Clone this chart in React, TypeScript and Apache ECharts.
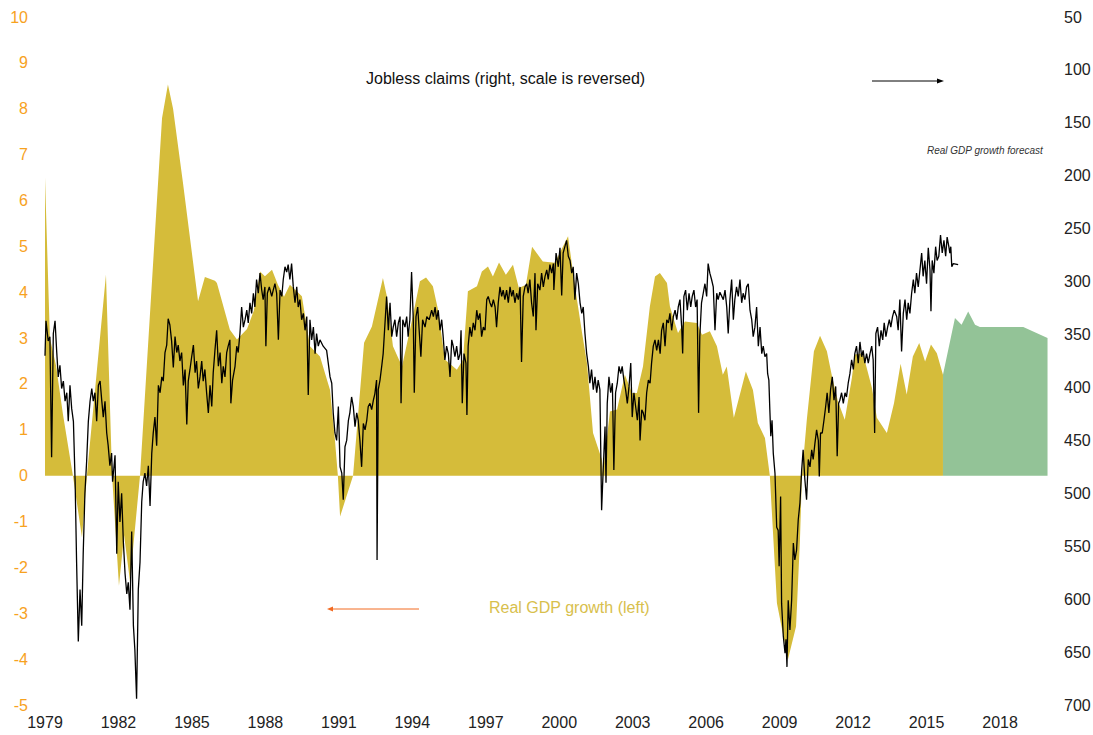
import React, { useEffect, useRef } from "react";
import * as echarts from "echarts";

const FONT = "'Liberation Sans', Arial, sans-serif";

// Real GDP growth (left axis, %), dates in decimal years
const gdpDates = [1979.00, 1979.20, 1979.45, 1979.73, 1980.14, 1980.51, 1980.71, 1981.49, 1981.74, 1982.02, 1982.23, 1982.47, 1982.88, 1983.78, 1984.02, 1984.23, 1984.63, 1985.25, 1985.53, 1985.94, 1986.02, 1986.55, 1986.84, 1987.25, 1987.53, 1987.78, 1987.98, 1988.27, 1988.51, 1988.76, 1989.00, 1989.49, 1989.82, 1990.23, 1990.64, 1990.84, 1990.96, 1991.05, 1991.58, 1992.03, 1992.35, 1992.80, 1992.96, 1993.21, 1993.58, 1993.99, 1994.31, 1994.56, 1994.84, 1995.05, 1995.33, 1995.82, 1996.07, 1996.27, 1996.64, 1996.84, 1997.09, 1997.29, 1997.54, 1997.82, 1998.11, 1998.35, 1998.64, 1998.89, 1999.33, 1999.82, 2000.36, 2000.64, 2000.93, 2001.13, 2001.38, 2001.74, 2001.78, 2002.07, 2002.36, 2002.68, 2002.97, 2003.17, 2003.42, 2003.70, 2003.91, 2004.11, 2004.40, 2004.52, 2004.85, 2005.13, 2005.62, 2005.83, 2006.15, 2006.44, 2006.68, 2006.84, 2007.13, 2007.62, 2007.91, 2008.11, 2008.40, 2008.60, 2008.89, 2009.34, 2009.67, 2009.83, 2009.91, 2010.11, 2010.40, 2010.65, 2010.93, 2011.14, 2011.38, 2011.66, 2011.95, 2012.07, 2012.40, 2012.77, 2012.97, 2013.38, 2013.67, 2013.94, 2014.19, 2014.44, 2014.70, 2014.94, 2015.18, 2015.42, 2015.67];
const gdpValues = [6.5, 3.0, 2.4, 1.35, 0, -1.35, 0, 4.38, 0, -2.4, -1.3, -2.3, 0, 7.8, 8.53, 8.0, 6.4, 3.8, 4.33, 4.25, 4.2, 3.18, 2.97, 3.2, 3.6, 4.45, 4.35, 4.49, 4.16, 3.9, 4.16, 3.91, 2.82, 2.6, 1.87, 0.78, 0, -0.89, 0, 2.9, 3.25, 4.31, 3.91, 2.82, 2.38, 3.4, 4.24, 4.32, 4.13, 3.62, 2.53, 2.31, 2.53, 4.02, 4.13, 4.45, 4.56, 4.34, 4.65, 4.38, 4.6, 4.09, 4.16, 4.99, 4.67, 4.64, 5.22, 4.13, 3.12, 2.46, 0.93, 0.35, 0.05, 1.4, 1.44, 2.2, 1.8, 1.8, 2.38, 3.69, 4.34, 4.42, 4.2, 3.69, 3.11, 3.36, 3.33, 3.07, 3.15, 2.82, 2.2, 2.38, 1.26, 2.27, 1.87, 1.15, 0.82, 0, -2.78, -4.01, -3.29, -1.4, 0, 1.22, 2.71, 3.05, 2.71, 2.16, 1.62, 1.22, 2.13, 2.64, 2.67, 1.91, 1.26, 0.93, 1.58, 2.44, 1.77, 2.6, 2.89, 2.49, 2.86, 2.67, 2.2];

// Real GDP growth forecast (left axis, %)
const fcDates = [2015.67, 2016.16, 2016.43, 2016.70, 2016.98, 2017.18, 2018.95, 2019.94];
const fcValues = [2.2, 3.44, 3.29, 3.58, 3.29, 3.24, 3.24, 3.0];

// Jobless claims (right axis, thousands, reversed) [decimal year, value]
const claims: [number, number][] = [
  [1979.00, 370], [1979.04, 337], [1979.13, 356], [1979.20, 352], [1979.27, 466], [1979.34, 349], [1979.41, 337], [1979.48, 367], [1979.54, 390], [1979.61, 379], [1979.68, 401], [1979.75, 394], [1979.82, 413], [1979.89, 405], [1979.95, 432],
  [1980.02, 398], [1980.09, 420], [1980.16, 432], [1980.23, 489], [1980.29, 565], [1980.36, 640], [1980.43, 591], [1980.50, 625], [1980.56, 557], [1980.63, 500], [1980.70, 470], [1980.77, 432], [1980.84, 413], [1980.91, 401], [1980.97, 413],
  [1981.04, 405], [1981.11, 432], [1981.18, 398], [1981.25, 394], [1981.32, 413], [1981.38, 428], [1981.45, 413], [1981.52, 443], [1981.58, 455], [1981.65, 474], [1981.72, 462], [1981.76, 489], [1981.86, 464], [1981.93, 557], [1981.99, 489],
  [1982.06, 527], [1982.13, 500], [1982.20, 546], [1982.27, 576], [1982.34, 595], [1982.40, 584], [1982.47, 610], [1982.54, 536], [1982.61, 625], [1982.67, 648], [1982.74, 694], [1982.81, 591], [1982.88, 565], [1982.95, 508],
  [1983.01, 489], [1983.08, 481], [1983.15, 493], [1983.22, 474], [1983.29, 512], [1983.36, 462], [1983.42, 443], [1983.49, 428], [1983.56, 455], [1983.63, 398], [1983.70, 405], [1983.77, 390], [1983.83, 394], [1983.90, 367], [1983.97, 360],
  [1984.03, 335], [1984.10, 341], [1984.17, 356], [1984.24, 381], [1984.31, 352], [1984.38, 367], [1984.44, 360], [1984.51, 375], [1984.58, 367], [1984.65, 398], [1984.72, 383], [1984.79, 435], [1984.85, 394], [1984.92, 383], [1984.99, 371],
  [1985.06, 360], [1985.13, 386], [1985.19, 375], [1985.26, 401], [1985.33, 390], [1985.40, 375], [1985.46, 394], [1985.53, 383], [1985.60, 405], [1985.67, 424], [1985.74, 398], [1985.81, 418], [1985.87, 386], [1985.94, 365],
  [1986.01, 346], [1986.08, 380], [1986.15, 367], [1986.22, 396], [1986.28, 380], [1986.35, 390], [1986.42, 367], [1986.48, 361], [1986.55, 355], [1986.59, 415], [1986.66, 393], [1986.76, 380], [1986.83, 361], [1986.89, 367], [1986.96, 349],
  [1987.03, 324], [1987.10, 343], [1987.17, 336], [1987.24, 327], [1987.30, 339], [1987.37, 320], [1987.44, 330], [1987.51, 311], [1987.57, 324], [1987.64, 298], [1987.71, 311], [1987.78, 292], [1987.85, 308], [1987.91, 317], [1987.98, 305],
  [1988.02, 361], [1988.08, 311], [1988.16, 305], [1988.26, 314], [1988.32, 308], [1988.39, 302], [1988.46, 311], [1988.53, 355], [1988.60, 308], [1988.67, 314], [1988.73, 298], [1988.80, 286], [1988.87, 291], [1988.93, 284],
  [1989.00, 298], [1989.07, 283], [1989.14, 305], [1989.21, 320], [1989.28, 305], [1989.34, 324], [1989.41, 317], [1989.48, 336], [1989.55, 330], [1989.62, 346], [1989.69, 333], [1989.75, 407], [1989.82, 336], [1989.89, 355], [1989.96, 343],
  [1990.03, 368], [1990.09, 349], [1990.16, 361], [1990.23, 355], [1990.36, 361], [1990.50, 365], [1990.64, 390], [1990.71, 396], [1990.77, 424], [1990.84, 443], [1990.91, 450], [1990.98, 418],
  [1991.05, 475], [1991.12, 481], [1991.18, 506], [1991.25, 456], [1991.32, 450], [1991.39, 431], [1991.45, 424], [1991.52, 409], [1991.59, 418], [1991.66, 437], [1991.73, 424], [1991.79, 431], [1991.86, 450], [1991.93, 475],
  [1992.00, 434], [1992.07, 440], [1992.14, 431], [1992.20, 418], [1992.27, 415], [1992.34, 421], [1992.41, 412], [1992.47, 406], [1992.54, 393], [1992.56, 563], [1992.61, 402], [1992.68, 393], [1992.75, 380], [1992.81, 368], [1992.95, 314],
  [1993.02, 346], [1993.09, 320], [1993.16, 352], [1993.22, 343], [1993.29, 336], [1993.36, 352], [1993.43, 339], [1993.50, 333], [1993.54, 415], [1993.61, 336], [1993.70, 343], [1993.77, 333], [1993.83, 352], [1993.90, 336], [1993.97, 291],
  [1994.04, 336], [1994.08, 405], [1994.15, 333], [1994.22, 324], [1994.28, 346], [1994.35, 371], [1994.42, 336], [1994.52, 343], [1994.59, 333], [1994.69, 336], [1994.79, 327], [1994.86, 333], [1994.93, 324], [1994.99, 336],
  [1995.06, 327], [1995.13, 346], [1995.20, 336], [1995.26, 352], [1995.33, 374], [1995.40, 361], [1995.47, 368], [1995.54, 390], [1995.61, 355], [1995.67, 361], [1995.74, 371], [1995.81, 361], [1995.88, 374], [1995.95, 368], [1995.99, 346],
  [1996.04, 415], [1996.11, 368], [1996.19, 377], [1996.23, 426], [1996.28, 361], [1996.35, 343], [1996.42, 352], [1996.49, 339], [1996.56, 346], [1996.63, 327], [1996.69, 336], [1996.76, 330], [1996.83, 352], [1996.90, 343], [1996.97, 346],
  [1997.04, 317], [1997.10, 314], [1997.17, 320], [1997.24, 324], [1997.31, 317], [1997.38, 324], [1997.44, 343], [1997.51, 320], [1997.58, 305], [1997.65, 314], [1997.71, 308], [1997.78, 317], [1997.85, 308], [1997.92, 320], [1997.99, 305],
  [1998.06, 314], [1998.12, 308], [1998.19, 320], [1998.26, 311], [1998.33, 317], [1998.40, 305], [1998.46, 376], [1998.53, 314], [1998.60, 305], [1998.67, 302], [1998.73, 311], [1998.80, 298], [1998.87, 320], [1998.94, 333],
  [1999.01, 292], [1999.05, 346], [1999.12, 302], [1999.21, 308], [1999.28, 292], [1999.35, 305], [1999.42, 295], [1999.49, 289], [1999.55, 298], [1999.62, 284], [1999.69, 292], [1999.76, 283], [1999.78, 308], [1999.87, 273], [1999.96, 286],
  [2000.03, 268], [2000.10, 313], [2000.16, 273], [2000.23, 267], [2000.30, 261], [2000.37, 276], [2000.44, 280], [2000.51, 292], [2000.57, 286], [2000.64, 317], [2000.71, 292], [2000.78, 302], [2000.85, 320], [2000.92, 330], [2000.98, 324],
  [2001.05, 349], [2001.12, 368], [2001.19, 380], [2001.25, 396], [2001.32, 383], [2001.39, 402], [2001.46, 390], [2001.53, 405], [2001.59, 393], [2001.66, 402], [2001.73, 516], [2001.80, 475], [2001.87, 437], [2001.91, 490], [2001.96, 415],
  [2002.03, 390], [2002.10, 405], [2002.17, 396], [2002.23, 478], [2002.30, 405], [2002.37, 396], [2002.44, 380], [2002.51, 387], [2002.57, 380], [2002.64, 393], [2002.71, 402], [2002.78, 415], [2002.85, 399], [2002.92, 377], [2002.98, 428],
  [2003.05, 405], [2003.12, 418], [2003.19, 431], [2003.26, 409], [2003.30, 450], [2003.37, 421], [2003.43, 424], [2003.50, 431], [2003.57, 405], [2003.64, 393], [2003.71, 396], [2003.77, 377], [2003.84, 361], [2003.91, 355], [2003.98, 365],
  [2004.05, 355], [2004.12, 368], [2004.18, 346], [2004.25, 339], [2004.32, 361], [2004.39, 336], [2004.46, 339], [2004.52, 330], [2004.59, 346], [2004.66, 333], [2004.73, 327], [2004.80, 336], [2004.86, 324], [2004.93, 317],
  [2005.00, 343], [2005.04, 368], [2005.09, 314], [2005.16, 308], [2005.23, 327], [2005.30, 311], [2005.37, 324], [2005.43, 314], [2005.50, 308], [2005.57, 324], [2005.63, 317], [2005.69, 424], [2005.74, 352], [2005.81, 320], [2005.88, 311], [2005.95, 302],
  [2006.02, 314], [2006.08, 283], [2006.15, 292], [2006.22, 298], [2006.29, 305], [2006.36, 346], [2006.43, 311], [2006.49, 317], [2006.56, 310], [2006.70, 317], [2006.77, 308], [2006.84, 324], [2006.90, 349], [2006.97, 317],
  [2007.04, 298], [2007.11, 336], [2007.17, 317], [2007.24, 305], [2007.31, 314], [2007.38, 298], [2007.45, 320], [2007.51, 311], [2007.58, 317], [2007.65, 305], [2007.72, 302], [2007.79, 327], [2007.86, 336], [2007.92, 352], [2007.99, 343],
  [2008.06, 324], [2008.13, 361], [2008.20, 343], [2008.27, 368], [2008.33, 361], [2008.40, 371], [2008.47, 368], [2008.51, 387], [2008.56, 393], [2008.60, 421], [2008.64, 446], [2008.69, 431], [2008.74, 462], [2008.81, 481], [2008.88, 532], [2008.94, 535], [2008.98, 569],
  [2009.04, 503], [2009.08, 604], [2009.15, 635], [2009.22, 651], [2009.26, 638], [2009.30, 664], [2009.35, 601], [2009.42, 629], [2009.49, 601], [2009.56, 547], [2009.62, 563], [2009.69, 554], [2009.76, 525], [2009.83, 509], [2009.90, 478], [2009.96, 459],
  [2010.03, 487], [2010.10, 506], [2010.17, 468], [2010.24, 475], [2010.31, 459], [2010.37, 468], [2010.44, 453], [2010.51, 440], [2010.58, 450], [2010.62, 484], [2010.67, 443], [2010.74, 443], [2010.81, 431], [2010.88, 418], [2010.94, 405],
  [2011.01, 424], [2011.08, 402], [2011.15, 390], [2011.22, 412], [2011.29, 399], [2011.35, 465], [2011.41, 415], [2011.46, 412], [2011.53, 405], [2011.60, 415], [2011.67, 405], [2011.73, 409], [2011.80, 396], [2011.87, 387], [2011.94, 374],
  [2012.01, 383], [2012.07, 368], [2012.14, 361], [2012.21, 377], [2012.28, 357], [2012.35, 371], [2012.41, 365], [2012.48, 377], [2012.55, 368], [2012.62, 377], [2012.69, 368], [2012.76, 361], [2012.82, 374], [2012.88, 443], [2012.93, 349],
  [2013.00, 343], [2013.07, 361], [2013.14, 346], [2013.21, 355], [2013.27, 339], [2013.34, 352], [2013.41, 343], [2013.48, 336], [2013.54, 343], [2013.61, 333], [2013.68, 327], [2013.78, 333], [2013.84, 346], [2013.91, 317], [2013.98, 366],
  [2014.05, 330], [2014.12, 317], [2014.19, 336], [2014.25, 320], [2014.32, 330], [2014.39, 311], [2014.46, 298], [2014.52, 311], [2014.59, 292], [2014.66, 305], [2014.73, 289], [2014.80, 273], [2014.86, 295], [2014.93, 280],
  [2015.00, 302], [2015.07, 268], [2015.14, 289], [2015.18, 328], [2015.23, 280], [2015.30, 292], [2015.37, 267], [2015.43, 280], [2015.50, 276], [2015.57, 256], [2015.64, 273], [2015.71, 261], [2015.78, 276], [2015.84, 258], [2015.91, 267], [2015.95, 273], [2015.99, 267],
  [2016.03, 286], [2016.09, 283], [2016.29, 284],
];

const xTicksStart = 1979;
const xTicksEnd = 2020;

export default function App() {
  const ref = useRef<HTMLDivElement>(null);
  useEffect(() => {
    document.body.style.margin = "0";
    const chart = echarts.init(ref.current!, undefined, { renderer: "svg" });
    const gdpData = gdpDates.map((d, i) => [d, gdpValues[i]]);
    const fcData = fcDates.map((d, i) => [d, fcValues[i]]);
    chart.setOption({
      animation: false,
      backgroundColor: "#ffffff",
      grid: { left: 45, right: 44, top: 17, bottom: 30, containLabel: false, outerBoundsMode: "none" },
      xAxis: {
        type: "value",
        min: xTicksStart,
        max: xTicksEnd,
        interval: 3,
        position: "bottom",
        axisLine: { show: false, onZero: false },
        axisTick: { show: false },
        splitLine: { show: false },
        axisLabel: {
          color: "#222222",
          fontFamily: FONT,
          fontSize: 16,
          margin: 9,
          showMaxLabel: false,
          formatter: (v: number) => String(Math.round(v)),
        },
      },
      yAxis: [
        {
          type: "value",
          min: -5,
          max: 10,
          interval: 1,
          position: "left",
          axisLine: { show: false },
          axisTick: { show: false },
          splitLine: { show: false },
          axisLabel: { color: "#F7A21E", fontFamily: FONT, fontSize: 16, margin: 17 },
        },
        {
          type: "value",
          min: 50,
          max: 700,
          interval: 50,
          inverse: true,
          position: "right",
          axisLine: { show: false },
          axisTick: { show: false },
          splitLine: { show: false },
          axisLabel: { color: "#222222", fontFamily: FONT, fontSize: 16, margin: 15 },
        },
      ],
      series: [
        {
          name: "Real GDP growth",
          type: "line",
          data: gdpData,
          yAxisIndex: 0,
          showSymbol: false,
          lineStyle: { width: 0, opacity: 0 },
          areaStyle: { color: "#D5BC3A", opacity: 1 },
          z: 1,
        },
        {
          name: "Real GDP growth forecast",
          type: "line",
          data: fcData,
          yAxisIndex: 0,
          showSymbol: false,
          lineStyle: { width: 0, opacity: 0 },
          areaStyle: { color: "#93C397", opacity: 1 },
          z: 1,
        },
        {
          name: "Jobless claims",
          type: "line",
          data: claims,
          yAxisIndex: 1,
          showSymbol: false,
          lineStyle: { width: 1.3, color: "#000000" },
          z: 3,
        },
      ],
      graphic: [
        {
          type: "text",
          left: 366,
          top: 70,
          style: {
            text: "Jobless claims (right, scale is reversed)",
            fill: "#111111",
            font: "16px " + FONT,
          },
        },
        {
          type: "line",
          shape: { x1: 872, y1: 81, x2: 938, y2: 81 },
          style: { stroke: "#000000", lineWidth: 1 },
        },
        {
          type: "polygon",
          shape: { points: [[944, 81], [937, 78.5], [937, 83.5]] },
          style: { fill: "#000000" },
        },
        {
          type: "text",
          left: 927,
          top: 145,
          style: {
            text: "Real GDP growth forecast",
            fill: "#333333",
            font: "italic 10px " + FONT,
          },
        },
        {
          type: "text",
          left: 489,
          top: 599,
          style: {
            text: "Real GDP growth (left)",
            fill: "#D8C04C",
            font: "16px " + FONT,
          },
        },
        {
          type: "line",
          shape: { x1: 333, y1: 609, x2: 419, y2: 609 },
          style: { stroke: "#F26A21", lineWidth: 1 },
        },
        {
          type: "polygon",
          shape: { points: [[327, 609], [333, 606.5], [333, 611.5]] },
          style: { fill: "#F26A21" },
        },
      ],
    });
    return () => chart.dispose();
  }, []);
  return <div ref={ref} style={{ width: 1093, height: 735 }} />;
}
